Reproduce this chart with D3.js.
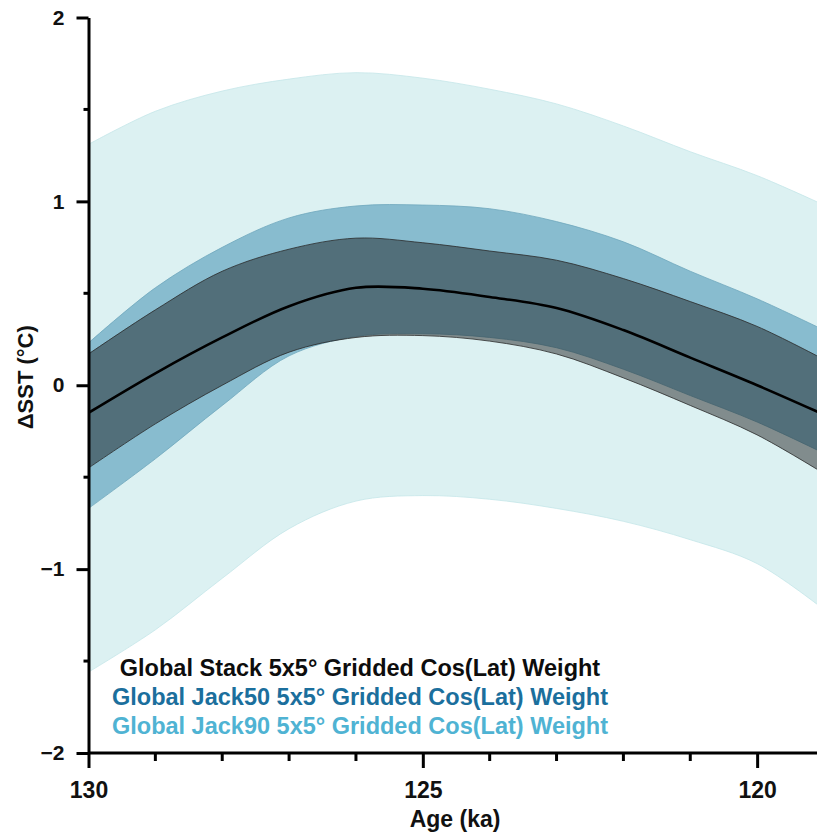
<!DOCTYPE html>
<html lang="en">
<head>
<meta charset="utf-8">
<title>Global SST stack</title>
<script src="https://cdn.jsdelivr.net/npm/d3@7"></script>
<style>
  body { margin: 0; background: #fff; }
  svg text { font-family: "Liberation Sans", Arial, sans-serif; font-weight: bold; }
</style>
</head>
<body>
<svg id="chart" width="817" height="838"></svg>
<script>
// ages (ka) and the bands
let ages        = [130, 129, 128, 127, 126, 125, 124, 123, 122, 121, 120, 119];
let stackMean   = [-0.15, 0.065, 0.26, 0.43, 0.53, 0.525, 0.48, 0.42, 0.30, 0.15, 0.0, -0.16];
let stackUpper  = [0.17, 0.41, 0.62, 0.74, 0.80, 0.775, 0.73, 0.68, 0.58, 0.455, 0.32, 0.14];
let stackLower  = [-0.45, -0.21, 0.0, 0.18, 0.26, 0.27, 0.24, 0.17, 0.04, -0.11, -0.27, -0.48];
let jack50Upper = [0.23, 0.53, 0.75, 0.91, 0.975, 0.98, 0.96, 0.89, 0.78, 0.62, 0.47, 0.30];
let jack50Lower = [-0.67, -0.40, -0.11, 0.16, 0.265, 0.28, 0.26, 0.204, 0.087, -0.056, -0.20, -0.37];
let jack90Upper = [1.31, 1.49, 1.60, 1.665, 1.70, 1.67, 1.61, 1.53, 1.41, 1.27, 1.14, 0.98];
let jack90Lower = [-1.56, -1.33, -1.05, -0.78, -0.63, -0.60, -0.62, -0.67, -0.74, -0.84, -0.97, -1.22];

let yTicks = [-2, -1, 0, 1, 2];
let yMinor = [-1.5, -0.5, 0.5, 1.5];
let xTicks = [130, 125, 120];
let xMinor = [129, 128, 127, 126, 124, 123, 122, 121];

let legendLabels = [
    "Global Stack 5x5\u00b0 Gridded Cos(Lat) Weight",
    "Global Jack50 5x5\u00b0 Gridded Cos(Lat) Weight",
    "Global Jack90 5x5\u00b0 Gridded Cos(Lat) Weight"
];
let legendColors = ["#0d0d0d", "#1b6f9d", "#4fb3d3"];

let svg = d3.select('#chart');
let plotLeft = 88.5, plotTop = 17.5, plotBottom = 753;

let x = d3.scaleLinear().domain([130, 119]).range([plotLeft, 824]);
let y = d3.scaleLinear().domain([-2, 2]).range([plotBottom, plotTop]);

svg.append('defs').append('clipPath').attr('id', 'plot-clip')
    .append('rect')
    .attr('x', plotLeft).attr('y', 0)
    .attr('width', 817 - plotLeft).attr('height', plotBottom);

let plot = svg.append('g').attr('clip-path', 'url(#plot-clip)');
let curve = d3.curveCatmullRom.alpha(0.5);

function band(lo, hi){
    return d3.area()
        .x((d, i) => x(ages[i]))
        .y0((d, i) => y(lo[i]))
        .y1((d, i) => y(hi[i]))
        .curve(curve)(ages);
}

plot.append('path')
    .attr('d', band(jack90Lower, jack90Upper))
    .attr('fill', '#dcf1f2')
    .attr('stroke', '#c4e6e9')
    .attr('stroke-width', 0.8);

plot.append('path')
    .attr('d', band(jack50Lower, jack50Upper))
    .attr('fill', '#88bccf')
    .attr('stroke', '#6ea7bd')
    .attr('stroke-width', 0.8);

plot.append('path')
    .attr('d', band(stackLower, stackUpper))
    .attr('fill', '#111')
    .attr('fill-opacity', 0.45)
    .attr('stroke', '#2a2a2a')
    .attr('stroke-width', 0.8);

let line = d3.line()
    .x((d, i) => x(ages[i]))
    .y(d => y(d))
    .curve(curve);

plot.append('path')
    .datum(stackMean)
    .attr('d', line)
    .attr('fill', 'none')
    .attr('stroke', '#000')
    .attr('stroke-width', 2.6);

// axes
let yAxis = svg.append('g')
    .attr('transform', `translate(${plotLeft},0)`)
    .call(d3.axisLeft(y).tickValues(yTicks).tickFormat(d3.format('d'))
        .tickSize(12).tickSizeOuter(0).tickPadding(12));
yAxis.append('g').selectAll('line')
    .data(yMinor).join('line')
    .attr('x1', 0).attr('x2', -5)
    .attr('y1', d => y(d)).attr('y2', d => y(d));

let xAxis = svg.append('g')
    .attr('transform', `translate(0,${plotBottom})`)
    .call(d3.axisBottom(x).tickValues(xTicks).tickFormat(d3.format('d'))
        .tickSize(15).tickSizeOuter(0).tickPadding(14));
xAxis.select('.domain').attr('d', `M${plotLeft},0H817`);
xAxis.append('g').selectAll('line')
    .data(xMinor).join('line')
    .attr('x1', d => x(d)).attr('x2', d => x(d))
    .attr('y1', 0).attr('y2', 8);

svg.selectAll('.domain').attr('stroke', '#000').attr('stroke-width', 3);
yAxis.selectAll('line').attr('stroke', '#000').attr('stroke-width', 3);
xAxis.selectAll('line').attr('stroke', '#000').attr('stroke-width', 3);
yAxis.selectAll('.tick text').attr('font-size', 21).attr('fill', '#111');
xAxis.selectAll('.tick text').attr('font-size', 23).attr('fill', '#111');

// axis titles
svg.append('text')
    .attr('transform', `translate(33,${y(0) - 8}) rotate(-90)`)
    .attr('text-anchor', 'middle')
    .attr('font-size', 22)
    .attr('fill', '#111')
    .text('\u0394SST (\u00b0C)');

svg.append('text')
    .attr('x', 455).attr('y', 827)
    .attr('text-anchor', 'middle')
    .attr('font-size', 23)
    .attr('fill', '#111')
    .text('Age (ka)');

// legend
svg.append('g').selectAll('text')
    .data(legendLabels).join('text')
    .attr('x', 360)
    .attr('y', (d, i) => 676 + i * 29)
    .attr('text-anchor', 'middle')
    .attr('font-size', 23.5)
    .attr('fill', (d, i) => legendColors[i])
    .text(d => d);
</script>
</body>
</html>
